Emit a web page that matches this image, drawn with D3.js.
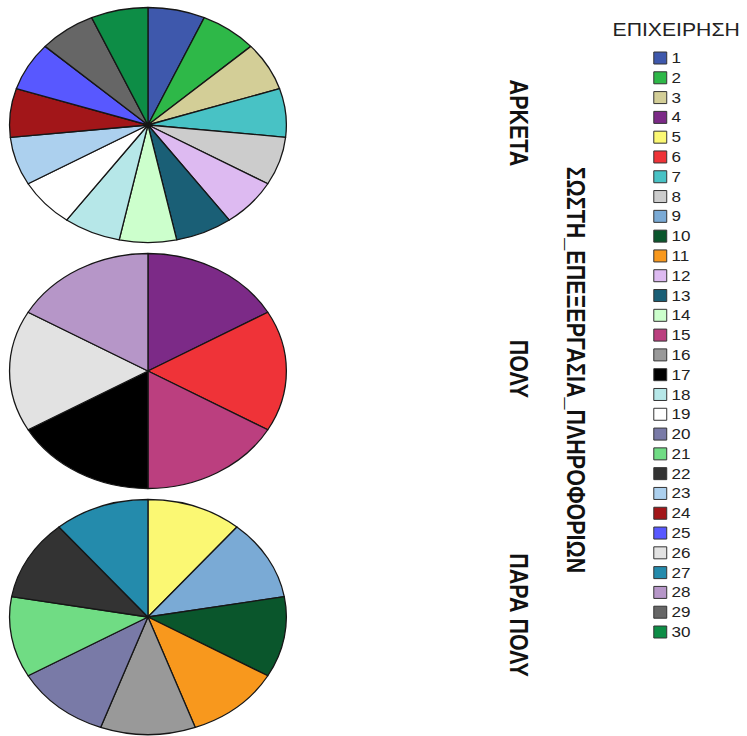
<!DOCTYPE html>
<html>
<head>
<meta charset="utf-8">
<script src="https://cdn.jsdelivr.net/npm/d3@7"></script>
<style>
  html, body { margin: 0; padding: 0; background: #ffffff; }
  svg { display: block; }
</style>
</head>
<body>
<svg id="chart" width="747" height="736"></svg>
<script>
// Companies (ΕΠΙΧΕΙΡΗΣΗ) 1..30 and their fill colours
const companies = d3.range(1, 31).map(String);
const companyColors = [
  "#3e58ac", "#2eb848", "#d3ce97", "#7c2a87", "#fbf873",
  "#ef3338", "#48c2c5", "#cccccc", "#7aaad5", "#0a562c",
  "#f8981d", "#ddbaf1", "#1a5f76", "#ccffcc", "#bb3f7f",
  "#999999", "#000000", "#b6e7e8", "#ffffff", "#797aa7",
  "#70dc84", "#333333", "#acd0ee", "#a21619", "#5858ff",
  "#e2e2e2", "#248bac", "#b696c8", "#666666", "#0d8d46"
];

// Panels of ΣΩΣΤΗ_ΕΠΕΞΕΡΓΑΣΙΑ_ΠΛΗΡΟΦΟΡΙΩΝ
const panelLabels = ["ΑΡΚΕΤΑ", "ΠΟΛΥ", "ΠΑΡΑ ΠΟΛΥ"];
const panelCompanies = [
  ["1", "2", "3", "7", "8", "12", "13", "14", "18", "19", "23", "24", "25", "29", "30"],
  ["4", "6", "15", "17", "26", "28"],
  ["5", "9", "10", "11", "16", "20", "21", "22", "27"]
];
// count of cases for each company in each panel
const panelCounts = [
  [1, 1, 1, 1, 1, 1, 1, 1, 1, 1, 1, 1, 1, 1, 1],
  [1, 1, 1, 1, 1, 1],
  [1, 1, 1, 1, 1, 1, 1, 1, 1]
];
const axisTitle = "ΣΩΣΤΗ_ΕΠΕΞΕΡΓΑΣΙΑ_ΠΛΗΡΟΦΟΡΙΩΝ";
const legendTitle = "ΕΠΙΧΕΙΡΗΣΗ";

const color = d3.scaleOrdinal().domain(companies).range(companyColors);

const svg = d3.select("#chart");
// the whole graphic is drawn in a horizontally widened frame
const sx = 1.178;
const root = svg.append("g").attr("transform", `scale(${sx},1)`);

const radius = 117.5;
const cx = 125.6;
const rowY = d3.scalePoint().domain(panelLabels).range([125, 617]);

const pie = d3.pie().sort(null).value(d => d.value);
const arc = d3.arc().innerRadius(0).outerRadius(radius);

const labelFont = "'Liberation Sans', Arial, sans-serif";

panelLabels.forEach((label, i) => {
  const data = panelCompanies[i].map((c, j) => ({ company: c, value: panelCounts[i][j] }));
  const g = root.append("g").attr("transform", `translate(${cx},${rowY(label)})`);
  g.selectAll("path")
    .data(pie(data))
    .join("path")
    .attr("d", arc)
    .attr("fill", d => color(d.data.company))
    .attr("stroke", "#161616")
    .attr("stroke-width", 1.3)
    .attr("stroke-linejoin", "round")
    .attr("vector-effect", "non-scaling-stroke");

  root.append("text")
    .attr("transform", `translate(440,${rowY(label) - 2}) rotate(90)`)
    .attr("text-anchor", "middle")
    .attr("dominant-baseline", "central")
    .attr("font-family", labelFont)
    .attr("font-weight", "bold")
    .attr("font-size", 21.5)
    .attr("fill", "#111")
    .text(label);
});

root.append("text")
  .attr("transform", `translate(489,370) rotate(90)`)
  .attr("text-anchor", "middle")
  .attr("dominant-baseline", "central")
  .attr("font-family", labelFont)
  .attr("font-weight", "bold")
  .attr("font-size", 21.5)
  .attr("fill", "#111")
  .text(axisTitle);

// legend
const legend = root.append("g");
legend.append("text")
  .attr("x", 574)
  .attr("y", 36)
  .attr("text-anchor", "middle")
  .attr("font-family", labelFont)
  .attr("font-size", 18)
  .attr("fill", "#222")
  .text(legendTitle);

const legendY = d3.scalePoint().domain(companies).range([58, 632]);
const items = legend.selectAll("g.item")
  .data(companies)
  .join("g")
  .attr("class", "item")
  .attr("transform", d => `translate(0,${legendY(d)})`);
items.append("rect")
  .attr("x", 555)
  .attr("y", -6)
  .attr("width", 11)
  .attr("height", 12)
  .attr("fill", d => color(d))
  .attr("stroke", "#333")
  .attr("stroke-width", 1)
  .attr("vector-effect", "non-scaling-stroke");
items.append("text")
  .attr("x", 570)
  .attr("y", 0)
  .attr("dominant-baseline", "central")
  .attr("font-family", labelFont)
  .attr("font-size", 14.5)
  .attr("fill", "#222")
  .text(d => d);
</script>
</body>
</html>
